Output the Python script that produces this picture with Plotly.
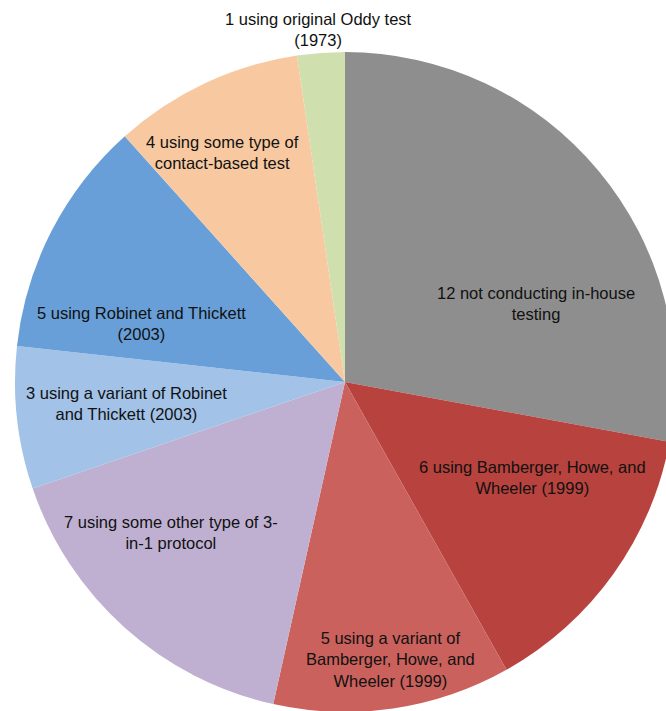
import plotly.graph_objects as go

# ---- data ----
labels = [
    "12 not conducting in-house<br>testing",
    "6 using Bamberger, Howe, and<br>Wheeler (1999)",
    "5 using a variant of<br>Bamberger, Howe, and<br>Wheeler (1999)",
    "7 using some other type of 3-<br>in-1 protocol",
    "3 using a variant of Robinet<br>and Thickett (2003)",
    "5 using Robinet and Thickett<br>(2003)",
    "4 using some type of<br>contact-based test",
    "1 using original Oddy test<br>(1973)",
]
values = [12, 6, 5, 7, 3, 5, 4, 1]
colors = ["#8e8e8e", "#b8423d", "#ca615c", "#bfb0d2",
          "#a2c2e8", "#689fd8", "#f8c9a0", "#d0dfae"]

# label centres in page pixels
label_px = [(536, 303), (532, 477.5), (390, 659), (171, 532),
            (126, 403), (141, 323), (223, 152), (318, 29.5)]

# ---- layout geometry ----
ML, MT = 15, 52          # left / top margin
D = 660                  # pie box (diameter)
W, H = ML + D, MT + D

fig = go.Figure(go.Pie(
    values=values,
    labels=labels,
    sort=False,
    direction="clockwise",
    rotation=0,
    marker=dict(colors=colors, line=dict(width=0)),
    textinfo="none",
    hoverinfo="label+value",
    showlegend=False,
    domain=dict(x=[0, 1], y=[0, 1]),
))

for txt, (px, py) in zip(labels, label_px):
    fig.add_annotation(
        x=(px - ML) / D, y=1 - (py - MT) / D,
        xref="paper", yref="paper",
        text=txt, showarrow=False, align="center",
        xanchor="center", yanchor="middle",
        font=dict(family="Liberation Sans, Arial, sans-serif", size=16.5, color="#111111"),
    )

fig.update_layout(
    width=W, height=H,
    margin=dict(l=ML, r=0, t=MT, b=0, autoexpand=False),
    paper_bgcolor="white",
    plot_bgcolor="white",
)

fig.write_html(
    "out.html",
    config={"displayModeBar": False},
    post_script="document.documentElement.style.overflow='hidden';"
                "document.body.style.overflow='hidden';"
                "document.body.style.margin='0';",
)
